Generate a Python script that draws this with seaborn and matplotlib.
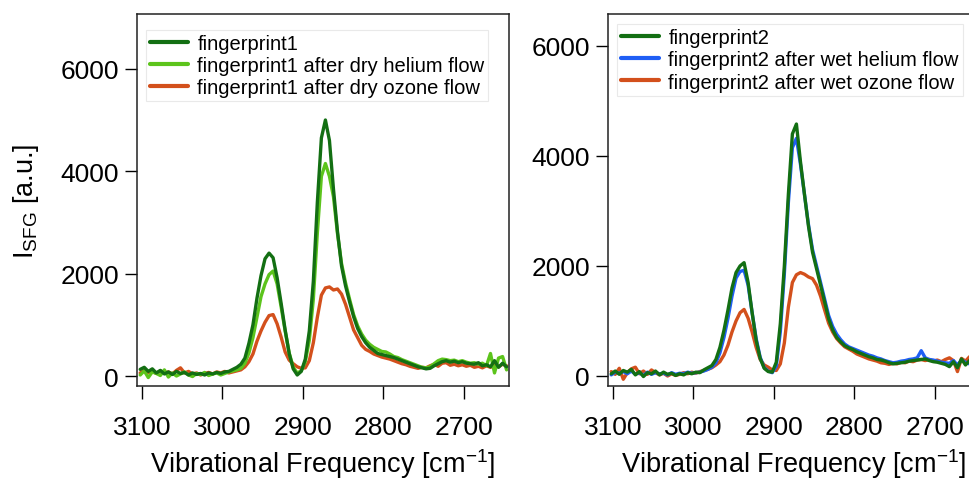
import numpy as np
import pandas as pd
import matplotlib
matplotlib.use("Agg")
import matplotlib.pyplot as plt
import seaborn as sns

# ---------------- data ----------------
freq = [3102, 3097, 3092, 3087, 3082, 3077, 3072, 3067, 3062, 3057,
        3052, 3047, 3042, 3037, 3032, 3027, 3022, 3017, 3012, 3007,
        3002, 2997, 2992, 2987, 2982, 2977, 2972, 2967, 2962, 2957,
        2952, 2947, 2942, 2937, 2932, 2927, 2922, 2917, 2912, 2907,
        2902, 2897, 2892, 2887, 2882, 2877, 2872, 2867, 2862, 2857,
        2852, 2847, 2842, 2837, 2832, 2827, 2822, 2817, 2812, 2807,
        2802, 2797, 2792, 2787, 2782, 2777, 2772, 2767, 2762, 2757,
        2752, 2747, 2742, 2737, 2732, 2727, 2722, 2717, 2712, 2707,
        2702, 2697, 2692, 2687, 2682, 2677, 2672, 2667, 2662, 2657,
        2652, 2647]

fp1 = [130, 170, 90, 140, 60, 110, 40, 80, 30, 90,
       50, 70, 20, 60, 30, 50, 20, 60, 40, 70,
       50, 80, 90, 130, 170, 230, 350, 640, 1000, 1520,
       1960, 2290, 2400, 2310, 1920, 1420, 900, 440, 140, 20,
       90, 330, 880, 1850, 3400, 4650, 5000, 4600, 3650, 2820,
       2150, 1760, 1450, 1160, 930, 770, 650, 560, 500, 440,
       420, 400, 380, 360, 330, 300, 270, 240, 210, 180,
       160, 140, 150, 200, 240, 280, 300, 270, 290, 260,
       280, 250, 240, 230, 260, 200, 220, 180, 300, 170,
       250, 180]

fp1_dry_helium = [20, 100, -30, 80, 50, 10, 120, -20, 60, 0,
                  40, 80, 20, -10, 50, 30, 70, 10, 40, 60,
                  20, 50, 80, 100, 120, 150, 250, 450, 750, 1150,
                  1550, 1800, 1980, 2050, 1800, 1350, 880, 450, 170, 60,
                  100, 280, 700, 1500, 2800, 3900, 4150, 3900, 3500, 2780,
                  2200, 1820, 1500, 1200, 980, 820, 700, 620, 560, 520,
                  480, 470, 430, 380, 360, 320, 290, 260, 230, 200,
                  170, 160, 180, 240, 300, 330, 320, 300, 310, 280,
                  300, 270, 250, 260, 230, 250, 200, 440, 60, 350,
                  380, 120]

fp1_dry_ozone = [60, 110, 70, 90, 50, 100, 60, 80, 40, 110,
                 160, 60, 90, 40, 60, 20, 50, 70, 40, 80,
                 60, 90, 60, 80, 100, 120, 180, 280, 430, 680,
                 880, 1050, 1180, 1200, 1020, 760, 470, 310, 240, 180,
                 150, 160, 300, 650, 1150, 1580, 1720, 1740, 1680, 1700,
                 1600, 1400, 1150, 900, 750, 600, 520, 480, 430, 400,
                 370, 350, 330, 300, 270, 240, 220, 190, 170, 150,
                 170, 160, 200, 230, 190, 250, 260, 210, 230, 200,
                 220, 190, 210, 170, 190, 160, 200, 170, 210, 180,
                 230, 200]

fp2 = [40, 90, 30, 100, 70, 120, 20, 80, -10, 60,
       40, 90, 20, 70, 30, 50, 10, 40, 20, 60,
       40, 70, 60, 110, 150, 190, 300, 520, 830, 1200,
       1600, 1880, 2000, 2060, 1700, 1150, 650, 320, 140, 80,
       70, 250, 950, 2000, 3300, 4400, 4580, 3900, 3300, 2720,
       2250, 1950, 1650, 1350, 1040, 840, 700, 620, 550, 510,
       480, 440, 410, 380, 350, 330, 300, 290, 270, 240,
       220, 230, 240, 250, 270, 280, 290, 300, 310, 280,
       260, 250, 230, 210, 170, 260, 150, 310, 200, 280,
       220, 260]

fp2_wet_helium = [20, 70, 50, 80, 40, 90, 30, 60, 10, 70,
                  30, 60, 40, 50, 20, 60, 30, 50, 40, 70,
                  50, 60, 70, 90, 120, 160, 240, 420, 700, 1050,
                  1450, 1780, 1900, 1920, 1650, 1150, 680, 340, 150, 90,
                  60, 180, 800, 1850, 3150, 4150, 4320, 3850, 3300, 2750,
                  2300, 2000, 1700, 1400, 1100, 900, 760, 660, 580, 530,
                  500, 470, 440, 410, 380, 360, 330, 310, 280, 260,
                  240, 250, 270, 280, 300, 310, 330, 460, 330, 300,
                  290, 270, 250, 240, 230, 280, 200, 290, 250, 220,
                  270, 240]

fp2_wet_ozone = [80, 30, 140, -60, 60, 130, 160, 40, 90, 30,
                 110, 60, 20, 50, 0, 40, 10, 30, 60, 40,
                 70, 50, 80, 100, 120, 150, 200, 260, 380, 560,
                 800, 1000, 1150, 1210, 1050, 800, 520, 300, 200, 160,
                 110, 100, 220, 600, 1250, 1700, 1840, 1880, 1850, 1800,
                 1770, 1650, 1450, 1200, 960, 800, 680, 600, 530, 490,
                 450, 400, 370, 340, 310, 290, 270, 240, 230, 210,
                 230, 220, 250, 240, 270, 260, 290, 300, 280, 300,
                 270, 290, 260, 300, 330, 280, 80, 320, 270, 350,
                 240, 300]

labels_left = ["fingerprint1", "fingerprint1 after dry helium flow",
               "fingerprint1 after dry ozone flow"]
labels_right = ["fingerprint2", "fingerprint2 after wet helium flow",
                "fingerprint2 after wet ozone flow"]
colors_left = ["#136f13", "#5cc41c", "#d3501c"]
colors_right = ["#136f13", "#1f5ef5", "#d3501c"]

x_ticks = [3100, 3000, 2900, 2800, 2700]
y_ticks = [0, 2000, 4000, 6000]

# ---------------- style ----------------
sns.set_theme(style="white")
plt.rcParams["font.family"] = ["Liberation Sans", "DejaVu Sans"]
plt.rcParams["mathtext.default"] = "regular"

fig = plt.figure(figsize=(9.69, 4.81), dpi=100)
ax1 = fig.add_axes([137 / 969, 1 - 387 / 481, 372 / 969, 372 / 481])
ax2 = fig.add_axes([608 / 969, 1 - 387 / 481, 372 / 969, 372 / 481])


def long_df(series, labels):
    frames = []
    for vals, lab in zip(series, labels):
        frames.append(pd.DataFrame({"freq": freq, "I": vals, "series": lab}))
    return pd.concat(frames, ignore_index=True)


def draw(ax, series, labels, colors, ylim, leg_top):
    df = long_df(series, labels)
    order = labels[::-1]
    pal = dict(zip(labels, colors))
    sns.lineplot(data=df, x="freq", y="I", hue="series", hue_order=order,
                 palette=pal, estimator=None, sort=False, linewidth=2.4,
                 ax=ax)
    ax.set_xlim(3106, 2644)
    ax.set_ylim(*ylim)
    ax.set_xticks(x_ticks)
    ax.set_yticks(y_ticks)
    ax.tick_params(axis="both", direction="out", length=9, width=1,
                   color="black", labelsize=19, colors="black",
                   bottom=True, left=True, top=False, right=False)
    ax.tick_params(axis="x", pad=12)
    ax.tick_params(axis="y", pad=4)
    for sp in ax.spines.values():
        sp.set_visible(True)
        sp.set_color("#222222")
        sp.set_linewidth(1.1)
    ax.set_xlabel("Vibrational Frequency [cm$^{-1}$]", fontsize=19.5,
                  color="black")
    ax.xaxis.set_label_coords(0.5, -0.163)
    handles, labs = ax.get_legend_handles_labels()
    lut = dict(zip(labs, handles))
    leg = ax.legend([lut[l] for l in labels], labels, loc="upper left",
                    bbox_to_anchor=(0.024, leg_top), borderaxespad=0,
                    fontsize=14.5, frameon=True, fancybox=False,
                    handlelength=1.9, handletextpad=0.45,
                    labelspacing=0.16, borderpad=0.2)
    leg.get_frame().set_edgecolor("#e4e4e4")
    leg.get_frame().set_linewidth(0.8)
    for t in leg.get_texts():
        t.set_color("black")
    for h in leg.get_lines():
        h.set_linewidth(3)


draw(ax1, [fp1, fp1_dry_helium, fp1_dry_ozone], labels_left, colors_left,
     (-195, 7070), 0.957)
draw(ax2, [fp2, fp2_wet_helium, fp2_wet_ozone], labels_right, colors_right,
     (-182, 6580), 0.973)

ax1.set_ylabel("I$_{SFG}$ [a.u.]", fontsize=19.5, color="black")
ax1.yaxis.set_label_coords(-0.258, 0.5)
ax2.set_ylabel("")

fig.savefig("out.png", dpi=100)
